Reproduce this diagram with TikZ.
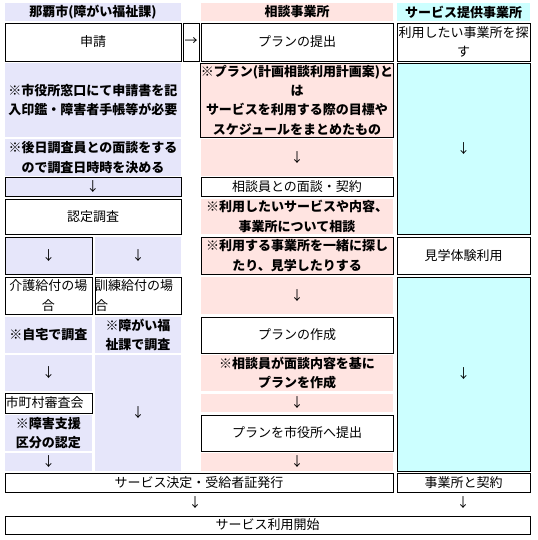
\documentclass[tikz,border=0pt]{standalone}
\usepackage{fontspec}
\setmainfont{Noto Sans CJK JP}
\definecolor{bl}{HTML}{E6E6FA}
\definecolor{pk}{HTML}{FFE4E1}
\definecolor{cy}{HTML}{CCFFFF}
\newcommand\mycell[7]{%
  \node[#2, minimum width={(#5-#3)*0.75pt}, minimum height={(#6-#4)*0.75pt}] (#1) at ({(#3+#5)/2},{(#4+#6)/2}) {#7};}
\tikzset{
  txt/.style={font=\fontsize{9.75}{14.5}\selectfont},
  bt/.style={font=\fontsize{9.75}{14.5}\selectfont\bfseries},
  wbox/.style={draw=black, fill=white, line width=0.75pt, txt},
  bfill/.style={fill=bl, txt},
  bbox/.style={draw=black, fill=bl, line width=0.75pt, txt},
  pfill/.style={fill=pk, txt},
  pbox/.style={draw=black, fill=pk, line width=0.75pt, txt},
  cbox/.style={draw=black, fill=cy, line width=0.75pt, txt},
  hfill/.style={bt},
}
\begin{document}
\begin{tikzpicture}[x=0.75pt, y=-0.75pt,
  every node/.style={inner sep=0pt, outer sep=0pt, align=center}]
\useasboundingbox[fill=white] (0,0) rectangle (537,540);
% headers
\mycell{h1}{bfill,bt}{5}{3}{181}{21}{那覇市(障がい福祉課)}
\mycell{h2}{pfill,bt}{201}{3}{393}{21}{相談事業所}
\mycell{h3}{fill=cy,bt}{397}{3}{530}{21}{サービス提供事業所}
% row 2
\mycell{a1}{wbox}{5}{23}{181}{61}{申請}
\mycell{arr}{wbox}{183}{23}{199}{61}{→}
\mycell{b1}{wbox}{201}{23}{393}{61}{プランの提出}
\mycell{c1}{wbox}{397}{23}{530}{61}{利用したい事業所を探\\す}
% row 3
\mycell{a2}{bfill,bt}{5}{63}{181}{137}{※市役所窓口にて申請書を記\\入印鑑・障害者手帳等が必要}
\mycell{b2}{pbox,bt}{201}{63}{393}{137}{※プラン(計画相談利用計画案)と\\は\\サービスを利用する際の目標や\\スケジュールをまとめたもの}
\mycell{c2}{cbox}{397}{63}{530}{234}{↓}
% row 4
\mycell{a3}{bfill,bt}{5}{139}{181}{176}{※後日調査員との面談をする\\ので調査日時時を決める}
\mycell{b3}{pfill}{201}{139}{393}{176}{↓}
% row 5
\mycell{a4}{bbox}{5}{177}{181}{196}{↓}
\mycell{b4}{wbox}{201}{177}{393}{196}{相談員との面談・契約}
% row 6
\mycell{a5}{wbox}{5}{199}{181}{234}{認定調査}
\mycell{b5}{pfill,bt}{201}{199}{393}{234}{※利用したいサービスや内容、\\事業所について相談}
% row 7
\mycell{a6l}{bbox}{5}{237}{92}{274}{↓}
\mycell{a6r}{bfill}{95}{237}{181}{274}{↓}
\mycell{b6}{pbox,bt}{201}{237}{393}{274}{※利用する事業所を一緒に探し\\たり、見学したりする}
\mycell{c6}{wbox}{397}{237}{530}{274}{見学体験利用}
% row 8
\mycell{a7l}{wbox}{5}{277}{92}{314}{介護給付の場\\合}
\mycell{a7r}{wbox, align=left, text width={86*0.75pt}}{95}{277}{181}{314}{訓練給付の場\\合}
\mycell{b7}{pfill}{201}{277}{393}{314}{↓}
\mycell{c7}{cbox}{397}{277}{530}{471}{↓}
% row 9
\mycell{a8l}{bfill,bt}{5}{317}{92}{353}{※自宅で調査}
\mycell{a8r}{bfill,bt}{95}{317}{181}{353}{※障がい福\\祉課で調査}
\mycell{b8}{wbox}{201}{317}{393}{353}{プランの作成}
% row 10
\mycell{a9l}{bfill}{5}{355}{92}{391}{↓}
\mycell{a9r}{bfill}{95}{355}{181}{471}{↓}
\mycell{b9}{pfill,bt}{201}{355}{393}{391}{※相談員が面談内容を基に\\プランを作成}
% row 11
\mycell{a10}{wbox, align=left, text width={86*0.75pt}}{5}{393}{92}{413}{市町村審査会}
\mycell{b10}{pfill}{201}{394}{393}{412}{↓}
% row 12
\mycell{a11}{bfill,bt}{5}{415}{92}{451}{※障害支援\\区分の認定}
\mycell{b11}{wbox}{201}{415}{393}{451}{プランを市役所へ提出}
% row 13
\mycell{a12}{bfill}{5}{453}{92}{471}{↓}
\mycell{b12}{pfill}{201}{453}{393}{471}{↓}
% row 14
\mycell{d1}{wbox}{5}{473}{393}{492}{サービス決定・受給者証発行}
\mycell{d2}{wbox}{397}{473}{530}{492}{事業所と契約}
% row 15
\node[txt] (f1) at (195,503) {↓};
\node[txt] (f2) at (463,503) {↓};
% row 16
\mycell{e1}{wbox}{5}{516}{530}{534}{サービス利用開始}
\end{tikzpicture}
\end{document}
